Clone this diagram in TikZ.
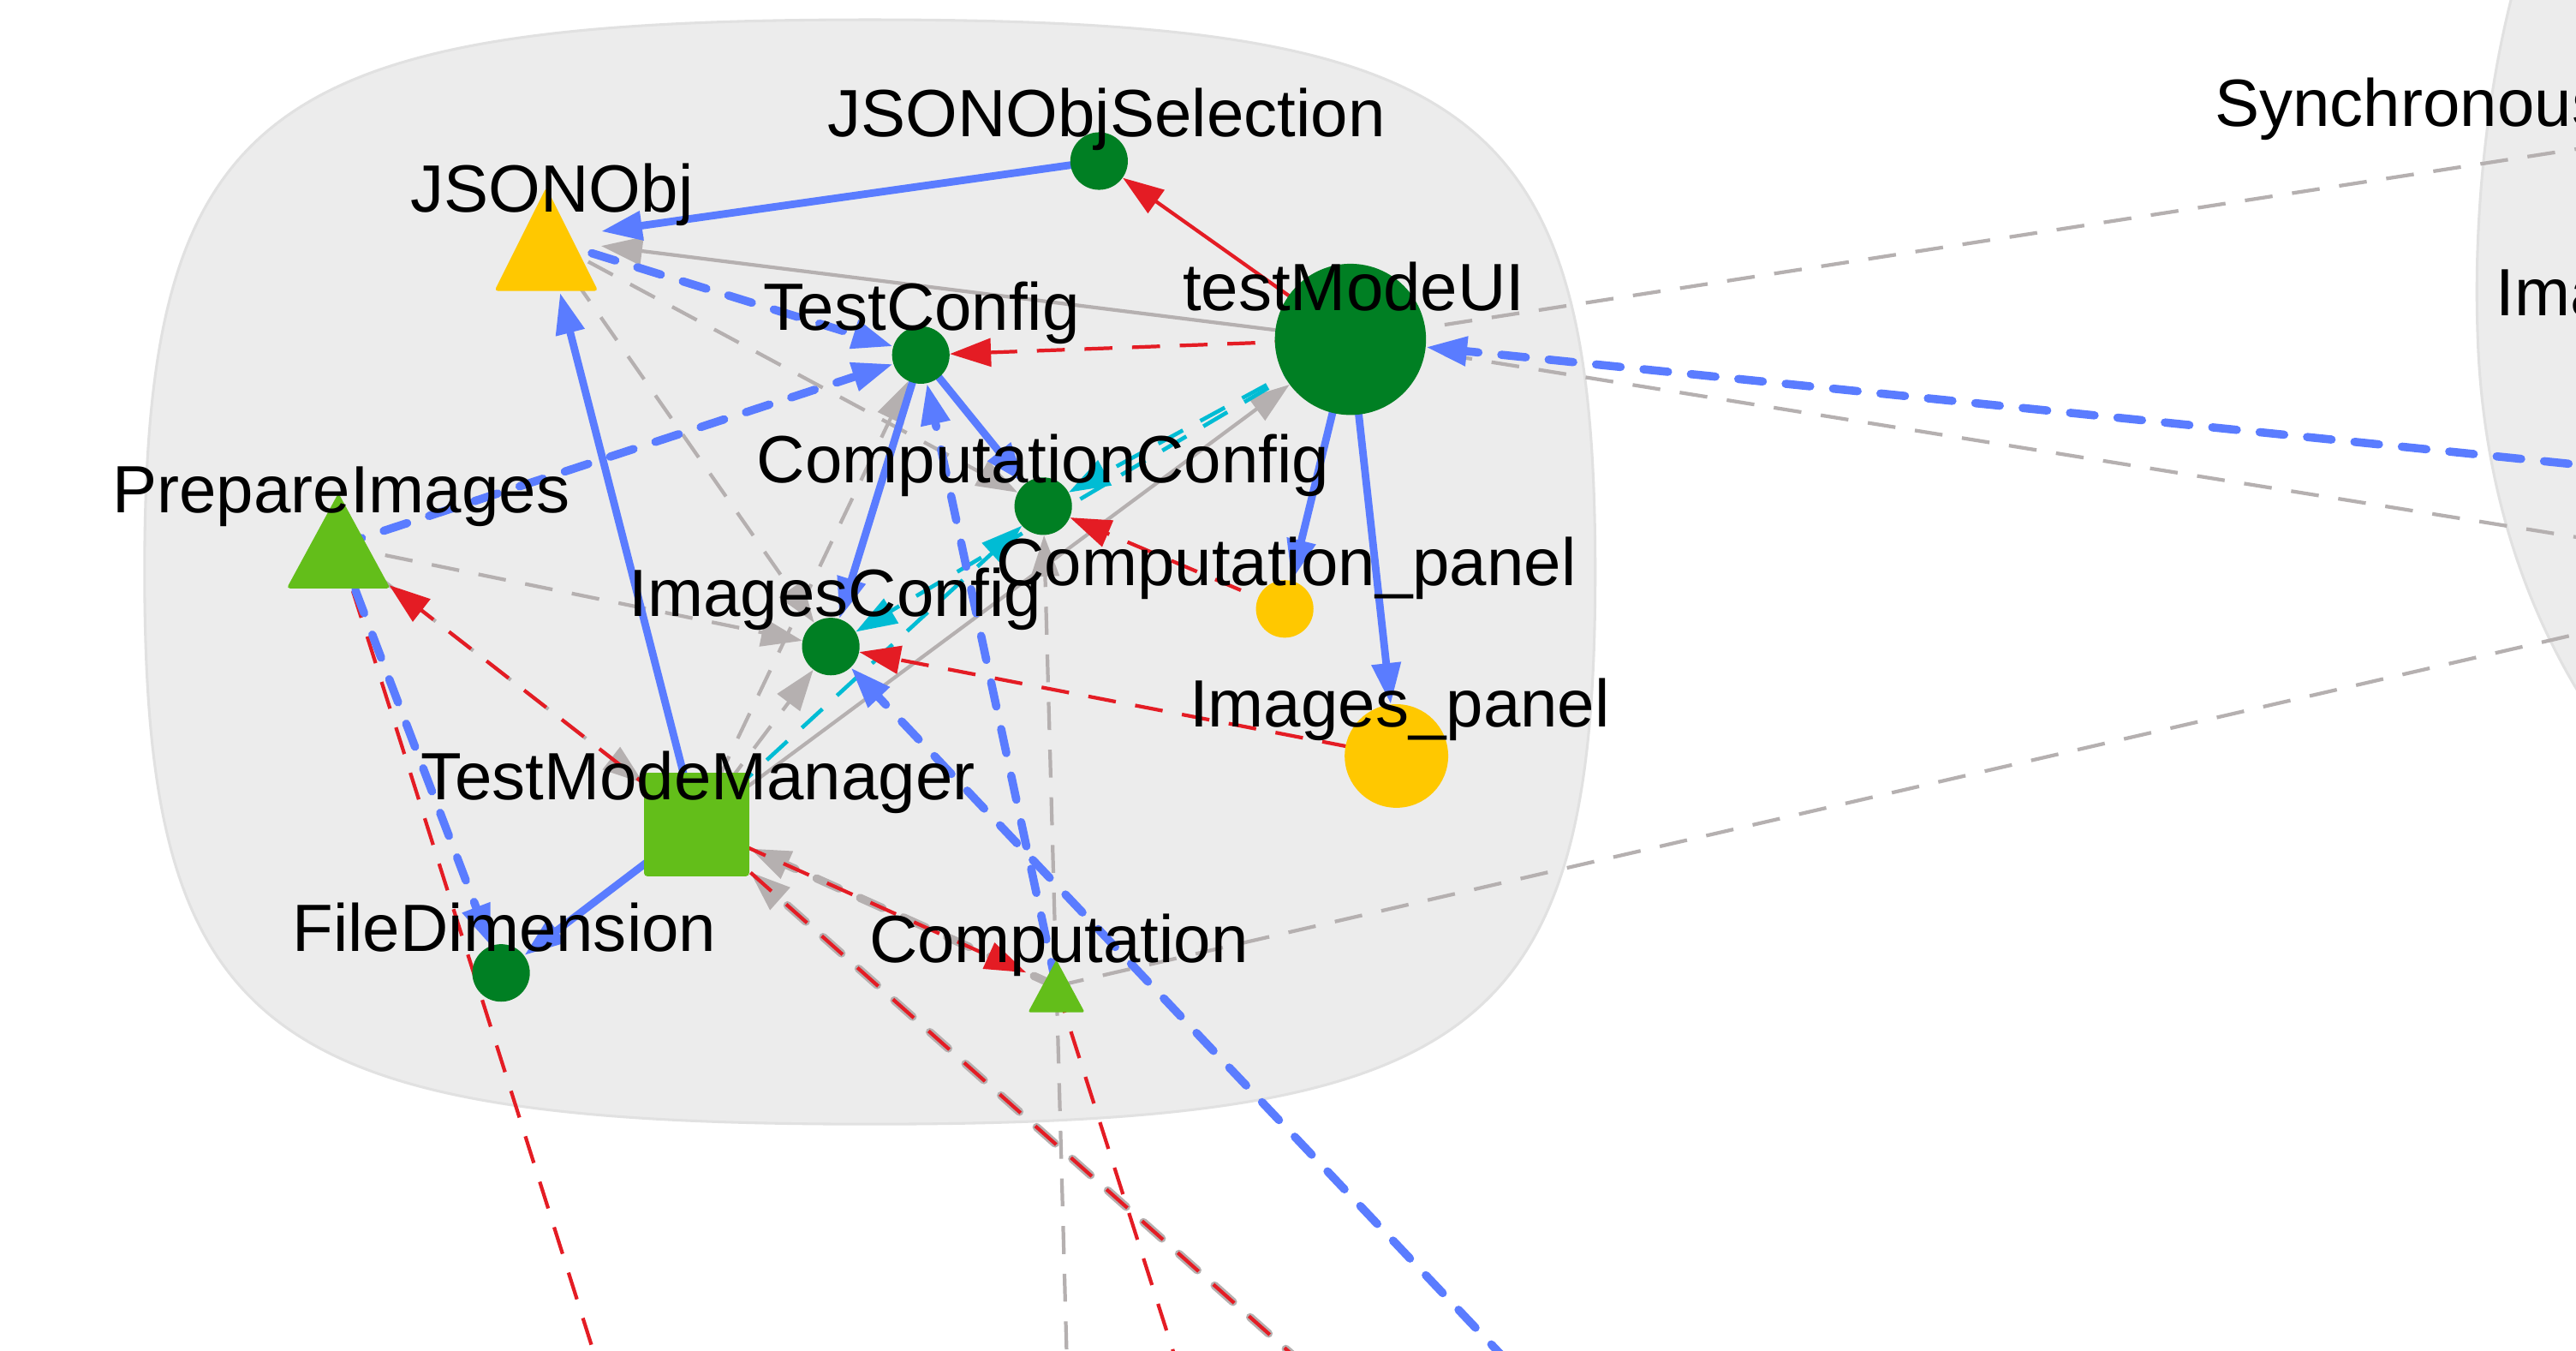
\documentclass[tikz,border=0pt]{standalone}
\usepackage{fontspec}
\setmainfont{Liberation Sans}
\usetikzlibrary{arrows.meta,shapes.geometric}
\definecolor{dgreen}{RGB}{0,127,35}
\definecolor{lgreen}{RGB}{99,190,26}
\definecolor{cyell}{RGB}{255,200,0}
\definecolor{cblue}{RGB}{90,124,255}
\definecolor{cred}{RGB}{228,28,36}
\definecolor{cgray}{RGB}{181,176,176}
\definecolor{ccyan}{RGB}{0,188,212}
\definecolor{blobfill}{RGB}{236,236,236}
\definecolor{blobline}{RGB}{225,225,225}
\pgfdeclarelayer{bg}
\pgfdeclarelayer{edges}
\pgfdeclarelayer{fg}
\pgfsetlayers{bg,edges,main,fg}
\begin{document}
\begin{tikzpicture}[x=1pt,y=-1pt,
  tip/.style={-{Triangle[length=25pt,width=17pt]}},
  gn/.style={circle,fill=dgreen,inner sep=0pt,minimum size=35pt},
  yn/.style={circle,fill=cyell,inner sep=0pt,minimum size=35pt},
  clipn/.style={circle,inner sep=0pt,draw=none,fill=none},
  bl/.style={draw=cblue,line width=4.6pt,tip},
  bld/.style={draw=cblue,line width=5pt,line cap=round,dash pattern=on 15pt off 14pt,tip},
  rs/.style={draw=cred,line width=2.2pt,tip},
  rdd/.style={draw=cred,line width=2.2pt,dash pattern=on 17pt off 12pt,tip},
  gs/.style={draw=cgray,line width=2.2pt,tip},
  gd/.style={draw=cgray,line width=2.2pt,dash pattern=on 17pt off 12pt,tip},
  gt/.style={draw=cgray,line width=5pt,line cap=round,dash pattern=on 15pt off 14pt,tip},
  cy/.style={draw=ccyan,line width=2.4pt,dash pattern=on 17pt off 12pt,tip},
  lbl/.style={font=\fontsize{40.7}{48}\selectfont,inner sep=0pt,anchor=base,text=black}
]
\useasboundingbox (0,0) rectangle (1568,822);
\begin{pgfonlayer}{bg}
  \fill[white] (0,0) rectangle (1568,822);
  \draw[draw=blobline,fill=blobfill,line width=1.6pt]
    (971,348) .. controls (971,65.8) and (900.4,12) .. (529.5,12)
    .. controls (158.6,12) and (88,65.8) .. (88,348)
    .. controls (88,630.2) and (158.6,684) .. (529.5,684)
    .. controls (900.4,684) and (971,630.2) .. (971,348) -- cycle;
  \draw[draw=blobline,fill=blobfill,line width=1.6pt]
    (1600,-10) -- (1531,-10) .. controls (1512,60) and (1506,140) .. (1508,200)
    .. controls (1510,280) and (1530,360) .. (1575,430) -- (1600,430) -- cycle;
\end{pgfonlayer}

% nodes
\node[gn] (jsel) at (669,98) {};
\node[circle,fill=dgreen,inner sep=0pt,minimum size=92pt] (ui) at (822,206.5) {};
\node[gn] (tc) at (560.5,216) {};
\node[gn] (cc) at (635,308) {};
\node[yn] (cp) at (782,370.5) {};
\node[gn] (ic) at (505.7,393.4) {};
\node[circle,fill=cyell,inner sep=0pt,minimum size=63pt] (ip) at (850,460) {};
\node[gn] (fd) at (305,592) {};
\node[rectangle,fill=lgreen,minimum width=64pt,minimum height=63pt,inner sep=0pt,rounded corners=2pt] (tmm) at (424,501.7) {};
\node[clipn,minimum size=67pt] (jo) at (332.5,145.5) {};
\fill[cyell,rounded corners=2pt] (332.5,114) -- (364,177) -- (301,177) -- cycle;
\node[clipn,minimum size=78pt] (pi) at (206,332) {};
\fill[lgreen,rounded corners=2pt] (206,300) -- (237.5,358) -- (174.5,358) -- cycle;
\node[clipn,minimum size=40pt] (comp) at (643,600) {};
\fill[lgreen,rounded corners=1.5pt] (643,584) -- (660.25,616) -- (625.75,616) -- cycle;

% off-picture ends
\coordinate (b1) at (370,850);
\coordinate (b2) at (723,850);
\coordinate (b3) at (650,850);
\coordinate (b4) at (815.5,850);
\coordinate (b5) at (938,850);
\coordinate (r1) at (1650,78);
\coordinate (r2) at (1650,291);
\coordinate (r3) at (1650,340);
\coordinate (r4) at (1650,367);

\begin{pgfonlayer}{edges}
  % gray thick dashed
  \draw[gt] (comp.center) -- (tmm);
  \draw[gt] (b4) -- (tmm);
  % gray dashed
  \draw[gd] (jo.center) -- (cc);
  \draw[gd] (jo.center) -- (ic);
  \draw[gd] (pi.center) -- (ic);
  \draw[gd] (pi.center) -- (tmm);
  \draw[gd] (tmm.center) -- (tc);
  \draw[gd] (tmm.center) -- (ic);
  \draw[gd] (b3) -- (cc);
  \draw[gd] (ui.center) -- (r1);
  \draw[gd] (ui.center) -- (r3);
  \draw[gd] (comp.center) -- (r4);
  % gray solid
  \draw[gs] (ui.center) -- (jo);
  \draw[gs] (tmm.center) -- (ui);
  % cyan dashed
  \draw[cy] (ui.center) -- (cc);
  \draw[cy] (ui.center) -- (ic);
  \draw[cy] (tmm.center) -- (cc);
  % red
  \draw[rs] (ui.center) -- (jsel);
  \draw[rdd] (ui.center) -- (tc);
  \draw[rdd] (cp.center) -- (cc);
  \draw[rdd] (ip.center) -- (ic);
  \draw[rdd] (tmm.center) -- (pi);
  \draw[rdd] (tmm.center) -- (comp);
  \draw[rdd] (pi.center) -- (b1);
  \draw[rdd] (comp.center) -- (b2);
  \draw[rdd,dash phase=14pt] (tmm.center) -- (b4);
  % blue dashed
  \draw[bld] (jo.center) -- (tc);
  \draw[bld] (pi.center) -- (tc);
  \draw[bld] (comp.center) -- (tc);
  \draw[bld] (b5) -- (ic);
  \draw[bld] (r2) -- (ui);
  \draw[bld] (pi.center) -- (fd);
  % blue solid
  \draw[bl] (jsel.center) -- (jo);
  \draw[bl] (tc.center) -- (cc);
  \draw[bl] (tc.center) -- (ic);
  \draw[bl] (tmm.center) -- (jo);
  \draw[bl] (tmm.center) -- (fd);
  \draw[bl] (ui.center) -- (cp);
  \draw[bl] (ui.center) -- (ip);
\end{pgfonlayer}

\begin{pgfonlayer}{fg}
  \node[lbl] (l-jsel) at (673.5,83) {JSONObjSelection};
  \node[lbl] (l-jo) at (336,129) {JSONObj};
  \node[lbl] (l-ui) at (824,189) {testModeUI};
  \node[lbl] (l-tc) at (561,201) {TestConfig};
  \node[lbl] (l-cc) at (635,293.5) {ComputationConfig};
  \node[lbl] (l-cp) at (783,356.5) {Computation\_panel};
  \node[lbl] (l-ic) at (508.5,375) {ImagesConfig};
  \node[lbl] (l-ip) at (852,442.5) {Images\_panel};
  \node[lbl] (l-pi) at (207.6,312) {PrepareImages};
  \node[lbl] (l-tmm) at (425,486.5) {TestModeManager};
  \node[lbl] (l-fd) at (307,578.8) {FileDimension};
  \node[lbl] (l-comp) at (644.5,585.5) {Computation};
  \node[lbl,anchor=base west] (l-syn) at (1348,77) {Synchronous};
  \node[lbl,anchor=base west] (l-ima) at (1519,192) {Ima};
\end{pgfonlayer}
\end{tikzpicture}
\end{document}
